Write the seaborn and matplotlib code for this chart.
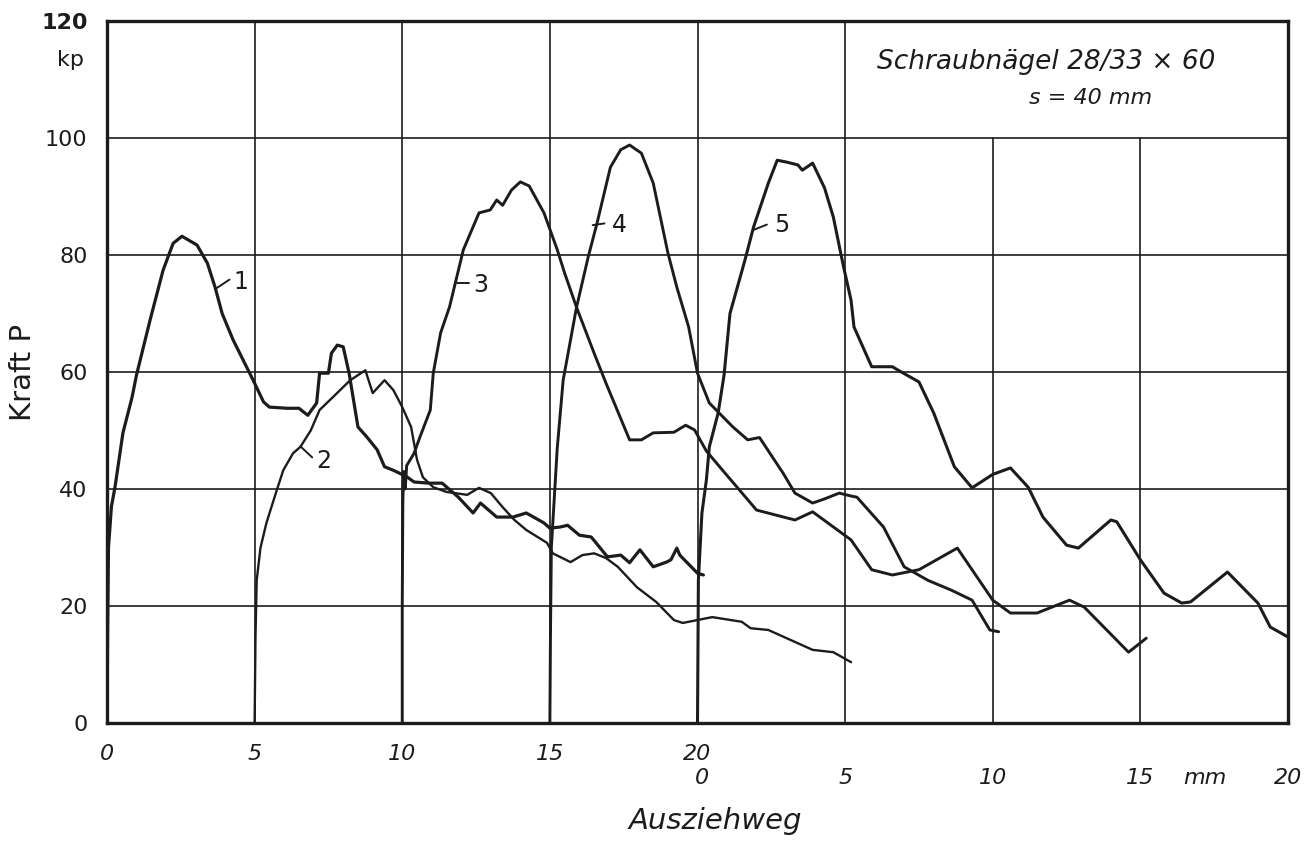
import numpy as np
import pandas as pd
import matplotlib
matplotlib.use("Agg")
import matplotlib.pyplot as plt
import seaborn as sns

# ---------------- data ----------------
c1_x = [0.0, 0.02, 0.05, 0.15, 0.27, 0.54, 0.85, 1.0, 1.46, 1.9, 2.24, 2.54, 3.05, 3.4, 3.66, 3.9,
        4.27, 4.95, 5.3, 5.5, 6.1, 6.5, 6.8, 7.1, 7.2, 7.5, 7.6, 7.8, 8.0, 8.2, 8.5, 8.8, 9.15, 9.4,
        9.7, 10.15, 10.4, 10.9, 11.35, 11.9, 12.4, 12.65, 13.2, 13.75, 14.2, 14.8, 15.0, 15.35, 15.6,
        16.0, 16.4, 16.95, 17.4, 17.7, 18.05, 18.5, 18.95, 19.1, 19.3, 19.4, 20.0, 20.2]
c1_y = [0.0, 15.0, 30.0, 37.0, 40.3, 49.6, 55.7, 59.5, 68.9, 77.4, 82.0, 83.2, 81.7, 78.6, 74.5, 70.0,
        65.5, 58.6, 54.9, 54.0, 53.8, 53.8, 52.6, 54.7, 59.8, 59.8, 63.2, 64.6, 64.3, 59.8, 50.6, 48.9,
        46.7, 43.8, 43.2, 42.1, 41.2, 41.0, 41.0, 38.6, 35.9, 37.6, 35.2, 35.2, 35.9, 34.2, 33.3, 33.5,
        33.8, 32.1, 31.8, 28.4, 28.7, 27.4, 29.6, 26.7, 27.5, 27.9, 29.9, 28.7, 25.6, 25.3]

c2_x = [5.0, 5.03, 5.07, 5.2, 5.4, 5.75, 5.97, 6.3, 6.55, 6.9, 7.2, 7.65, 8.24, 8.75, 9.0, 9.4, 9.7,
        10.0, 10.3, 10.5, 10.7, 11.05, 11.5, 12.2, 12.6, 13.0, 13.4, 13.8, 14.2, 14.9, 15.1, 15.7,
        16.1, 16.5, 16.9, 17.3, 17.95, 18.6, 19.2, 19.5, 20.0, 20.5, 21.5, 21.8, 22.4, 23.15, 23.9,
        24.6, 25.2]
c2_y = [0.0, 15.0, 24.4, 30.0, 34.2, 39.8, 43.2, 46.1, 47.2, 50.0, 53.5, 55.7, 58.6, 60.3, 56.4, 58.6,
        56.9, 54.0, 50.6, 45.0, 42.0, 40.3, 39.5, 39.0, 40.2, 39.3, 36.9, 34.7, 33.0, 30.8, 29.0, 27.5,
        28.7, 29.0, 28.2, 26.7, 23.2, 20.7, 17.6, 17.1, 17.6, 18.1, 17.3, 16.2, 15.9, 14.2, 12.5,
        12.1, 10.4]

c3_x = [10.0, 10.0, 10.02, 10.05, 10.1, 10.15, 10.4, 10.6, 10.95, 11.05, 11.3, 11.6, 12.07, 12.6,
        12.98, 13.2, 13.4, 13.7, 14.0, 14.3, 14.8, 15.25, 15.5, 15.9, 16.5, 16.9, 17.7, 18.1, 18.5,
        19.2, 19.6, 19.9, 20.3, 20.8, 22.0, 23.3, 23.9, 25.2, 25.9, 26.6, 27.5, 28.8, 30.0, 30.6,
        31.5, 32.6, 33.1, 34.6, 35.2]
c3_y = [0.0, 20.0, 38.0, 43.0, 40.0, 44.0, 46.1, 48.9, 53.5, 59.8, 66.7, 71.1, 80.9, 87.2,
        87.7, 89.4, 88.5, 91.1, 92.5, 91.8, 87.2, 80.9, 76.9, 71.1, 63.2, 58.1, 48.4, 48.4, 49.6,
        49.7, 50.9, 50.1, 46.5, 43.5, 36.4, 34.7, 36.1, 31.3, 26.2, 25.3, 26.2, 29.9, 21.0, 18.8,
        18.8, 21.0, 19.8, 12.1, 14.5]

c4_x = [15.0, 15.02, 15.05, 15.25, 15.45, 15.9, 16.3, 16.6, 17.05, 17.4, 17.7, 18.1, 18.5, 19.0,
        19.3, 19.7, 20.0, 20.4, 21.2, 21.7, 22.1, 22.9, 23.3, 23.9, 24.3, 24.8, 25.2, 25.4, 26.3,
        27.0, 27.8, 28.6, 29.3, 29.9, 30.2]
c4_y = [0.0, 15.0, 30.0, 47.0, 58.6, 71.0, 79.7, 85.5, 95.0, 98.0, 98.8, 97.4, 92.3, 80.3,
        74.5, 67.7, 59.8, 54.7, 50.6, 48.4, 48.8, 42.7, 39.3, 37.6, 38.3, 39.3, 38.8, 38.6, 33.5,
        26.7, 24.4, 22.7, 21.0, 15.9, 15.6]

c5_x = [20.0, 20.03, 20.15, 20.3, 20.4, 20.7, 20.9, 21.1, 21.6, 21.9, 22.4, 22.7, 23.0, 23.4, 23.55,
        23.9, 24.3, 24.6, 24.95, 25.2, 25.3, 25.9, 26.6, 26.8, 27.5, 28.0, 28.7, 29.3, 30.0, 30.6,
        31.2, 31.7, 32.5, 32.9, 34.0, 34.2, 35.0, 35.8, 36.4, 36.7, 37.95, 38.98, 39.4, 40.0]
c5_y = [0.0, 24.4, 35.9, 41.5, 47.2, 53.0, 59.5, 70.0, 79.0, 84.8, 92.3, 96.2, 95.9, 95.4, 94.5,
        95.7, 91.5, 86.5, 77.9, 72.3, 67.7, 60.9, 60.9, 60.3, 58.3, 53.0, 43.8, 40.2, 42.5, 43.6,
        40.3, 35.2, 30.4, 29.9, 34.7, 34.4, 27.9, 22.2, 20.5, 20.7, 25.8, 20.5, 16.4, 14.7]

curve_names = ["1", "2", "3", "4", "5"]
y_ticks = [0, 20, 40, 60, 80, 100, 120]
y_tick_labels = ["0", "20", "40", "60", "80", "100", "120"]
x_ticks_row1 = [0, 5, 10, 15, 20]
x_labels_row1 = ["0", "5", "10", "15", "20"]
x_ticks_row2 = [20, 25, 30, 35, 40]
x_labels_row2 = ["0", "5", "10", "15", "20"]
title_line1 = "Schraubnägel 28/33 × 60"
title_line2 = "s = 40 mm"
x_label = "Ausziehweg"
y_label = "Kraft P"
y_unit = "kp"
x_unit = "mm"

frames = []
for name, xs, ys in zip(curve_names, [c1_x, c2_x, c3_x, c4_x, c5_x], [c1_y, c2_y, c3_y, c4_y, c5_y]):
    frames.append(pd.DataFrame({"weg": xs, "kraft": ys, "kurve": name, "order": range(len(xs))}))
df = pd.concat(frames, ignore_index=True)

# ---------------- drawing ----------------
sns.set_style("white")
plt.rcParams["font.family"] = ["DejaVu Sans"]

W, H = 1315, 841
fig = plt.figure(figsize=(W / 100, H / 100), dpi=100)
ax = fig.add_axes([107 / W, 1 - 723 / H, 1181 / W, 702 / H])
ax.set_xlim(0, 40)
ax.set_ylim(0, 120)

ink = "#1c1c1c"
# grid (drawn by hand on the chart)
for gx in [5, 10, 15, 20, 25]:
    ax.axvline(gx, color=ink, lw=1.2, zorder=1)
for gx in [30, 35]:
    ax.axvline(gx, ymax=100 / 120, color=ink, lw=1.2, zorder=1)
for gy in [20, 40, 60, 80, 100]:
    ax.axhline(gy, color=ink, lw=1.2, zorder=1)

widths = {"1": 2.3, "2": 1.7, "3": 2.1, "4": 2.1, "5": 2.2}
for name in curve_names:
    sub = df[df["kurve"] == name]
    sns.lineplot(data=sub, x="weg", y="kraft", sort=False, estimator=None,
                 color=ink, lw=widths[name], ax=ax, zorder=3, legend=False)

# curve number labels with short leader strokes: (curve point, stroke end, text position)
label_geom = {"1": ((3.70, 74.3), (4.15, 75.8), (4.55, 75.4)),
              "2": ((6.55, 47.3), (6.95, 45.4), (7.35, 44.8)),
              "3": ((11.85, 75.2), (12.25, 75.2), (12.65, 74.9)),
              "4": ((16.45, 85.1), (16.85, 85.4), (17.35, 85.2)),
              "5": ((21.90, 84.3), (22.35, 85.2), (22.85, 85.1))}
for name, (p0, p1, pt) in label_geom.items():
    ax.plot([p0[0], p1[0]], [p0[1], p1[1]], color=ink, lw=1.4, zorder=3)
    ax.text(pt[0], pt[1], name, fontsize=17, color=ink, ha="center", va="center", zorder=3)

# frame
for s in ax.spines.values():
    s.set_color(ink)
    s.set_linewidth(2.4)
    s.set_zorder(4)

ax.set_xticks(x_ticks_row1)
ax.set_xticklabels(x_labels_row1, fontsize=16, fontstyle="italic", color=ink)
ax.set_yticks(y_ticks)
ax.set_yticklabels(y_tick_labels, fontsize=16, color=ink)
ax.get_yticklabels()[-1].set_fontweight("bold")
ax.tick_params(axis="x", length=0, pad=15)
ax.tick_params(axis="y", length=0, pad=14)
ax.set_xlabel("")
ax.set_ylabel("")

tx = ax.get_xaxis_transform()
for xv, lab in zip(x_ticks_row2, x_labels_row2):
    ax.text(xv + (0.15 if xv == 20 else 0), -0.078, lab, transform=tx, ha="center", va="center",
            fontsize=16, fontstyle="italic", color=ink)
ax.text(37.2, -0.078, x_unit, transform=tx, ha="center", va="center",
        fontsize=16, fontstyle="italic", color=ink)
ax.text(20.6, -0.140, x_label, transform=tx, ha="center", va="center",
        fontsize=21, fontstyle="italic", color=ink)

ty = ax.get_yaxis_transform()
ax.text(-0.031, 113.3, y_unit, transform=ty, ha="center", va="center", fontsize=16, color=ink)
ax.text(-0.071, 60, y_label, transform=ty, ha="center", va="center", rotation=90,
        fontsize=21, color=ink)

ax.text(31.8, 113.0, title_line1, ha="center", va="center", fontsize=19,
        fontstyle="italic", color=ink)
ax.text(33.3, 106.8, title_line2, ha="center", va="center", fontsize=16,
        fontstyle="italic", color=ink)

fig.savefig("out.png", dpi=100, facecolor="white")
